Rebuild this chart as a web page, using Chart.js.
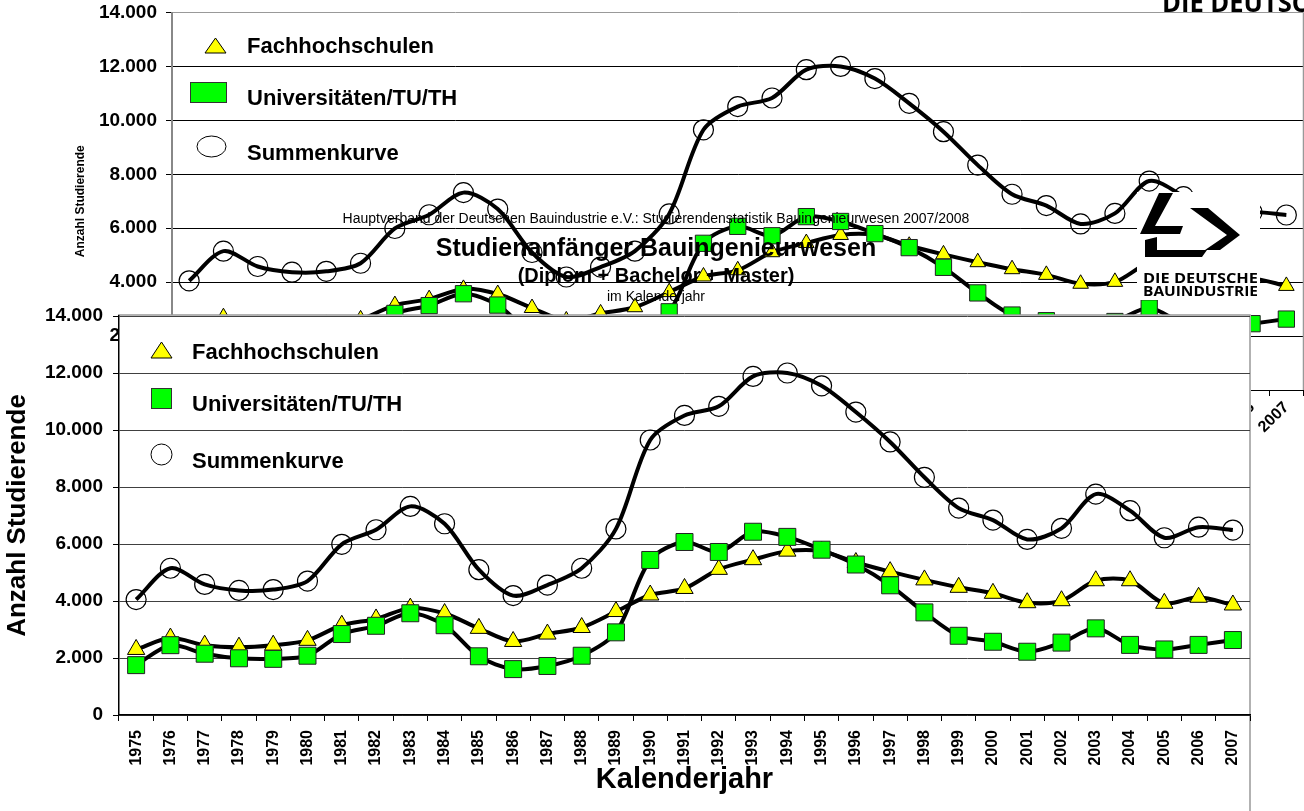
<!DOCTYPE html>
<html lang="de">
<head>
<meta charset="utf-8">
<title>Studienanfänger Bauingenieurwesen</title>
<script src="https://cdn.jsdelivr.net/npm/chart.js@4.4.1/dist/chart.umd.min.js"></script>
<style>
  html, body { margin: 0; padding: 0; background: #fff; }
  body {
    width: 1304px; height: 811px; position: relative; overflow: hidden;
    font-family: "Liberation Sans", Arial, sans-serif; color: #000;
  }
  canvas { position: absolute; left: 0; }
  .t { position: absolute; white-space: nowrap; height: 30px; line-height: 30px; }
  .b { font-weight: bold; }
  .c { transform: translateX(-50%); }
  svg { position: absolute; left: 0; top: 0; pointer-events: none; }
  #logo { position: absolute; left: 1137px; top: 192px; width: 123px; height: 108px; background: #fff; }
  #logo svg { position: static; }
</style>
</head>
<body>

<!-- a bit wider than the page: its plot box runs right up to the edge -->
<canvas id="backChart" width="1316" height="460" style="top:0"></canvas>

<!-- legend of the chart in the back -->
<svg width="1304" height="315">
  <polygon points="215.5,38 226,53 205,53" fill="#ffff00" stroke="#000" stroke-width="1"/>
  <rect x="190.5" y="82.5" width="36" height="20" fill="#00ff00" stroke="#333" stroke-width="1"/>
  <ellipse cx="211.5" cy="146.5" rx="14.5" ry="10.5" fill="#fff" stroke="#000" stroke-width="1"/>
  <text x="1162" y="12" font-family="Open Sans, DejaVu Sans, sans-serif" font-weight="700" font-size="26" textLength="180" lengthAdjust="spacingAndGlyphs">DIE DEUTSCHE</text>
</svg>
<div class="t b" style="left:247px; top:31px; font-size:22px">Fachhochschulen</div>
<div class="t b" style="left:247px; top:83px; font-size:22px">Universitäten/TU/TH</div>
<div class="t b" style="left:247px; top:138px; font-size:22px">Summenkurve</div>

<!-- title block -->
<div class="t c" style="left:656px; top:203px; font-size:14px">Hauptverband der Deutschen Bauindustrie e.V.: Studierendenstatistik Bauingenieurwesen 2007/2008</div>
<div class="t b c" style="left:656px; top:232px; font-size:25px">Studienanfänger Bauingenieurwesen</div>
<div class="t b c" style="left:656px; top:260px; font-size:20px">(Diplom + Bachelor + Master)</div>
<div class="t c" style="left:656px; top:281px; font-size:14px">im Kalenderjahr</div>

<!-- logo -->
<div id="logo">
  <svg width="123" height="108">
    <polygon points="22,1 36,1 18,34 46,34 43,42 3,42" fill="#000"/>
    <polygon points="53,16 71,16 103,43 83,58 68,58 90,43" fill="#000"/>
    <polygon points="20,45 8,48 8,65 65,65 70,58 20,58" fill="#000"/>
    <text x="6" y="91" font-family="Open Sans, DejaVu Sans, sans-serif" font-weight="700" font-size="14" textLength="115" lengthAdjust="spacingAndGlyphs">DIE DEUTSCHE</text>
    <text x="6" y="104" font-family="Open Sans, DejaVu Sans, sans-serif" font-weight="700" font-size="14" textLength="115" lengthAdjust="spacingAndGlyphs">BAUINDUSTRIE</text>
  </svg>
</div>

<canvas id="frontChart" width="1304" height="511" style="top:300px"></canvas>

<!-- legend of the chart in front -->
<svg width="1304" height="811">
  <polygon points="161.5,342 172,358 151,358" fill="#ffff00" stroke="#000" stroke-width="1"/>
  <rect x="151.5" y="388.5" width="20" height="20" fill="#00ff00" stroke="#333" stroke-width="1"/>
  <circle cx="161.5" cy="454.5" r="10.5" fill="#fff" stroke="#000" stroke-width="1"/>
</svg>
<div class="t b" style="left:192px; top:337px; font-size:22px">Fachhochschulen</div>
<div class="t b" style="left:192px; top:389px; font-size:22px">Universitäten/TU/TH</div>
<div class="t b" style="left:192px; top:446px; font-size:22px">Summenkurve</div>

<script>
// Studienanfänger je Kalenderjahr
const years = ['1975', '1976', '1977', '1978', '1979', '1980', '1981', '1982', '1983', '1984', '1985',
    '1986', '1987', '1988', '1989', '1990', '1991', '1992', '1993', '1994', '1995', '1996',
    '1997', '1998', '1999', '2000', '2001', '2002', '2003', '2004', '2005', '2006', '2007'];
const fachhochschulen = [2300, 2700, 2450, 2380, 2450, 2620, 3150, 3370, 3750, 3560, 3040,
    2580, 2840, 3070, 3630, 4210, 4440, 5110, 5450, 5750, 5750, 5350,
    5030, 4740, 4480, 4270, 3940, 4010, 4710, 4710, 3920, 4130, 3860];
const universitaeten = [1750, 2450, 2150, 1990, 1970, 2080, 2840, 3130, 3570, 3150, 2060,
    1610, 1720, 2080, 2900, 5440, 6070, 5720, 6430, 6250, 5800, 5280,
    4550, 3600, 2780, 2570, 2220, 2540, 3040, 2460, 2300, 2460, 2630];
const summenkurve = [4050, 5150, 4580, 4370, 4400, 4700, 5990, 6500, 7320, 6710, 5100,
    4190, 4560, 5150, 6530, 9650, 10510, 10830, 11880, 12000, 11550, 10630,
    9580, 8340, 7260, 6840, 6160, 6550, 7750, 7170, 6220, 6590, 6490];
const yMax = 14000;
const yStep = 2000;

Chart.defaults.font.family = '"Liberation Sans", Arial, sans-serif';
Chart.defaults.color = '#000';

// 14000 -> "14.000"
function fmt(v) {
    return String(v).replace(/\B(?=(\d{3})+(?!\d))/g, '.');
}

function makeDatasets(s) {
    return [{
        label: 'Fachhochschulen',
        data: fachhochschulen,
        order: 2,
        borderColor: '#000',
        borderWidth: 4,
        tension: 0.3,
        pointStyle: 'triangle',
        pointRadius: s.tri,
        pointBackgroundColor: '#ffff00',
        pointBorderColor: '#000',
        pointBorderWidth: 1
    }, {
        label: 'Universitäten/TU/TH',
        data: universitaeten,
        order: 1,
        borderColor: '#000',
        borderWidth: 4,
        tension: 0.3,
        pointStyle: 'rect',
        pointRadius: s.rect,
        pointBackgroundColor: '#00ff00',
        pointBorderColor: '#222',
        pointBorderWidth: 1
    }, {
        label: 'Summenkurve',
        data: summenkurve,
        order: 3,
        borderColor: '#000',
        borderWidth: 4,
        tension: 0.3,
        pointStyle: 'circle',
        pointRadius: s.circ,
        pointBackgroundColor: 'rgba(255,255,255,0)',
        pointBorderColor: '#000',
        pointBorderWidth: 1.2
    }];
}

// fixed axis sizes, label overflow padding kept small so the plot box lands where it should
function fixY(width) {
    return (s) => { s.width = width; s.paddingTop = 8; s.paddingBottom = 8; };
}
function fixX(height) {
    return (s) => { s.height = height; s.paddingLeft = 0; s.paddingRight = 0; };
}

// Chart in the back (top part of the picture)
new Chart(document.getElementById('backChart'), {
    type: 'line',
    data: { labels: years, datasets: makeDatasets({ tri: 9, rect: 11.5, circ: 10 }) },
    options: {
        responsive: false,
        animation: false,
        events: [],
        layout: { padding: { top: 12, right: 1, left: 0, bottom: 0 } },
        plugins: { legend: { display: false }, tooltip: { enabled: false } },
        scales: {
            x: {
                offset: true,
                grid: { drawOnChartArea: false, offset: true, tickLength: 6, color: '#000' },
                border: { color: '#000', width: 1 },
                ticks: { autoSkip: false, minRotation: 45, maxRotation: 45, padding: 2,
                    font: { size: 16, weight: 'bold' } },
                afterFit: fixX(70)
            },
            y: {
                min: 0,
                max: yMax,
                ticks: { stepSize: yStep, padding: 9, font: { size: 19, weight: 'bold' }, callback: fmt },
                grid: {
                    tickLength: 6,
                    tickColor: '#000',
                    color: (c) => (c.tick && c.tick.value === yMax ? '#999' : '#000')
                },
                border: { color: '#888', width: 2 },
                title: { display: true, text: 'Anzahl Studierende', font: { size: 12, weight: 'bold' },
                    padding: { top: 73, bottom: 0 } },
                afterFit: fixY(172)
            }
        }
    },
    plugins: [{
        id: 'rightBorder',
        beforeDatasetsDraw(chart) {
            const a = chart.chartArea;
            const ctx = chart.ctx;
            ctx.save();
            ctx.strokeStyle = '#999';
            ctx.lineWidth = 1.5;
            ctx.beginPath();
            ctx.moveTo(a.right, a.top);
            ctx.lineTo(a.right, a.bottom);
            ctx.stroke();
            ctx.restore();
        }
    }]
});

// Chart in front
new Chart(document.getElementById('frontChart'), {
    type: 'line',
    data: { labels: years, datasets: makeDatasets({ tri: 10, rect: 12, circ: 10 }) },
    options: {
        responsive: false,
        animation: false,
        events: [],
        layout: { padding: { top: 16, right: 54, left: 0, bottom: 0 } },
        plugins: { legend: { display: false }, tooltip: { enabled: false } },
        scales: {
            x: {
                offset: true,
                grid: { drawOnChartArea: false, offset: true, tickLength: 6, color: '#000' },
                border: { color: '#000', width: 1.5 },
                ticks: { autoSkip: false, minRotation: 90, maxRotation: 90, padding: 9,
                    font: { size: 16, weight: 'bold' } },
                title: { display: true, text: 'Kalenderjahr', font: { size: 29, weight: 'bold' },
                    padding: { top: 0, bottom: 14 } },
                afterFit: fixX(96)
            },
            y: {
                min: 0,
                max: yMax,
                ticks: { stepSize: yStep, padding: 10, font: { size: 19, weight: 'bold' }, callback: fmt },
                grid: { color: '#404040', tickLength: 6, tickColor: '#000' },
                border: { color: '#000', width: 1.5 },
                title: { display: true, text: 'Anzahl Studierende', font: { size: 26, weight: 'bold' },
                    padding: { top: 2, bottom: 0 } },
                afterFit: fixY(119)
            }
        }
    },
    plugins: [{
        id: 'whiteBox',
        beforeDraw(chart) {
            const ctx = chart.ctx;
            const a = chart.chartArea;
            const top = a.top - 1;
            ctx.save();
            ctx.fillStyle = '#fff';
            ctx.fillRect(a.left - 1, top, a.right - a.left + 2, chart.height - top);
            ctx.strokeStyle = '#999';
            ctx.lineWidth = 1.5;
            ctx.beginPath();
            ctx.moveTo(a.left - 1, top);
            ctx.lineTo(a.right, top);
            ctx.lineTo(a.right, chart.height);
            ctx.stroke();
            ctx.restore();
        }
    }]
});
</script>
</body>
</html>
